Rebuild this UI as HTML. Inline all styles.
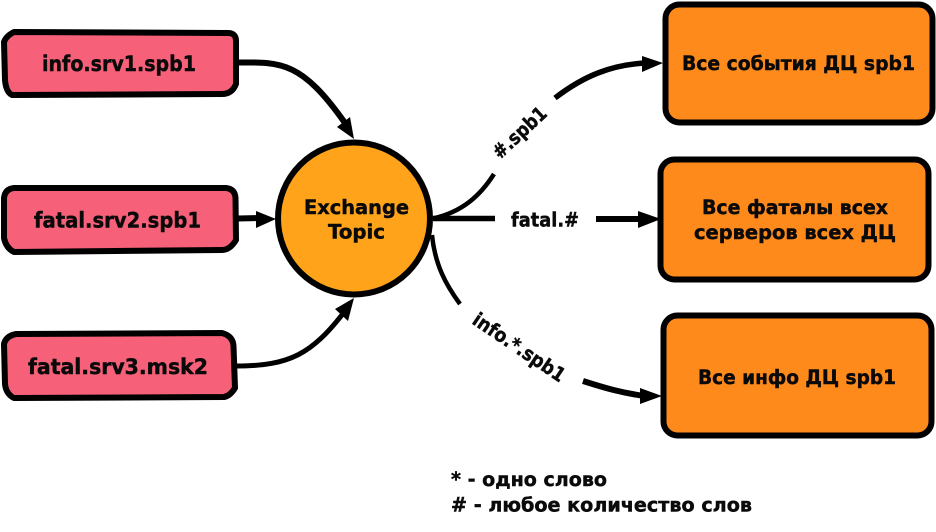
<!DOCTYPE html>
<html><head><meta charset="utf-8"><style>
html,body{margin:0;padding:0;background:#fff;width:936px;height:532px;overflow:hidden}
svg{display:block}
text{font-family:"DejaVu Sans","Liberation Sans",sans-serif;font-weight:700;fill:#0a0a0a;stroke:#0a0a0a;stroke-width:.45px}
</style></head><body>
<svg width="936" height="532" viewBox="0 0 936 532" xmlns="http://www.w3.org/2000/svg">
<rect width="936" height="532" fill="#fff"/>
<g fill="#F66079" stroke="#000" stroke-width="6" stroke-linejoin="round">
<path d="M14 32 L228 33 Q236 33 236 41 L236 84 Q232 94 222 94 L12 95 Q6 92 5 80 L4 42 Q6 36 14 32Z"/>
<path d="M14 188 L226 188 Q235 189 235.500 198 L236 240 Q230 250 222 250 L14 252 Q6 248 4 238 L4 198 Q5 189 14 188Z"/>
<path d="M16 334 L222 333 Q233 336 233.500 346 L235 388 Q230 396 224 397 L14 398 Q6 394 5 384 L4 344 Q6 336 16 334Z"/>
</g>
<circle cx="354" cy="218.500" r="76" fill="#FFA31A" stroke="#000" stroke-width="6"/>
<g fill="#FF8A1C" stroke="#000" stroke-width="6" stroke-linejoin="round">
<rect x="665.500" y="4.500" width="267" height="118" rx="14"/>
<rect x="660.500" y="159.500" width="268" height="120" rx="14"/>
<rect x="663.500" y="315.500" width="268" height="120" rx="14"/>
</g>
<g fill="none" stroke="#000" stroke-linecap="butt">
<path d="M238 62.500 C282 62 302 62 345 123" stroke-width="6"/>
<path d="M238 218.500 L258 218" stroke-width="6"/>
<path d="M236 366 C290 366 312 354 345 311" stroke-width="5"/>
<path d="M433 218.500 C462 212 480 196 494 174" stroke-width="4.500"/>
<path d="M555 98 C585 75 612 65 645 63" stroke-width="5.500"/>
<path d="M433 218.500 L495 218.500" stroke-width="5.500"/>
<path d="M596 219 L640 219" stroke-width="6"/>
<path d="M432 235 C435 265 446 285 460 304" stroke-width="4.500"/>
<path d="M583 381 C605 388 622 393 645 396" stroke-width="6"/>
</g>
<g fill="#000">
<polygon points="354,139 337,127 350,117"/>
<polygon points="276,219 256,211 256,228"/>
<polygon points="354,298 335,309 348,321"/>
<polygon points="663,63 642,56 642,72"/>
<polygon points="661,219 638,211 638,228"/>
<polygon points="662,396 640,388 640,404"/>
</g>
<g font-size="21.500">
<text x="42" y="71" textLength="154" lengthAdjust="spacingAndGlyphs">info.srv1.spb1</text>
<text x="34" y="227.500" textLength="167" lengthAdjust="spacingAndGlyphs">fatal.srv2.spb1</text>
<text x="28" y="374" textLength="180" lengthAdjust="spacingAndGlyphs">fatal.srv3.msk2</text>
</g>
<g font-size="19.500">
<text x="304" y="214" textLength="105" lengthAdjust="spacingAndGlyphs">Exchange</text>
<text x="328" y="238.500" textLength="57" lengthAdjust="spacingAndGlyphs">Topic</text>
<text x="682" y="70" textLength="233" lengthAdjust="spacingAndGlyphs">Все события ДЦ spb1</text>
<text x="702" y="214" textLength="186" lengthAdjust="spacingAndGlyphs">Все фаталы всех</text>
<text x="694" y="239" textLength="202" lengthAdjust="spacingAndGlyphs">серверов всех ДЦ</text>
<text x="698" y="384" textLength="198" lengthAdjust="spacingAndGlyphs">Все инфо ДЦ spb1</text>
<text x="511" y="226.500" textLength="68" lengthAdjust="spacingAndGlyphs">fatal.#</text>
<text x="451" y="486" textLength="156" lengthAdjust="spacingAndGlyphs">* - одно слово</text>
<text x="451" y="511.500" textLength="301" lengthAdjust="spacingAndGlyphs"># - любое количество слов</text>
<text transform="translate(500,160) rotate(-43)" x="0" y="0" textLength="66" lengthAdjust="spacingAndGlyphs">#.spb1</text>
<text transform="translate(471,323) rotate(34)" x="0" y="0" textLength="107" lengthAdjust="spacingAndGlyphs">info.*.spb1</text>
</g>
</svg>
</body></html>
